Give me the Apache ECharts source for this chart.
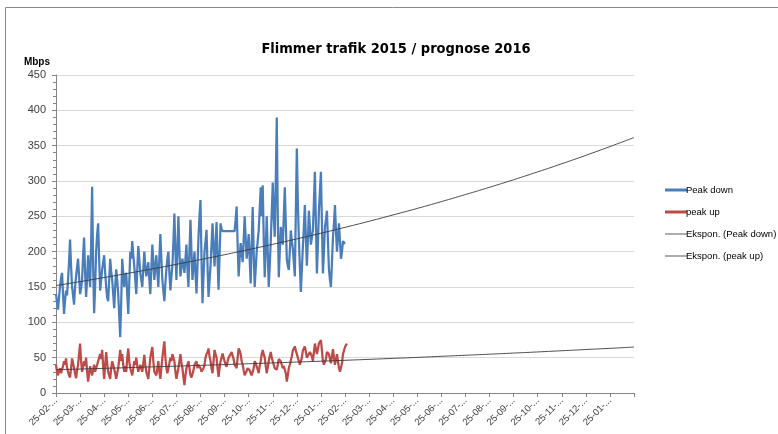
<!DOCTYPE html>
<html>
<head>
<meta charset="utf-8">
<script src="https://cdn.jsdelivr.net/npm/echarts@6/dist/echarts.min.js"></script>
<style>html,body{margin:0;padding:0;background:#fff;}#c{width:778px;height:434px;}</style>
</head>
<body>
<div id="c"></div>
<script>
// x-axis tick labels (one per month tick)
const monthLabels = ['25-02-...','25-03-...','25-04-...','25-05-...','25-06-...','25-07-...','25-08-...','25-09-...','25-10-...','25-11-...','25-12-...','25-01-...',
                     '25-02-...','25-03-...','25-04-...','25-05-...','25-06-...','25-07-...','25-08-...','25-09-...','25-10-...','25-11-...','25-12-...','25-01-...'];
// samples are spaced 1/24 month apart, starting at the first tick
const sampleStep = 1 / 24;
const peakDown = [
  140,128,118,135,150,162,170,140,112,130,145,138,160,185,217,180,150,138,125,150,
  165,178,190,165,140,148,160,195,220,170,136,160,195,172,150,210,292,180,113,150,
  200,225,240,190,145,160,175,185,195,170,150,135,130,160,190,172,160,140,120,150,
  175,160,140,110,79,130,190,170,150,165,170,140,112,155,200,190,215,195,180,160,
  140,175,208,190,170,160,150,175,200,180,165,175,185,160,140,175,210,185,160,180,
  195,170,150,190,225,190,160,145,130,155,175,190,200,170,145,165,180,215,254,200,
  160,205,250,200,165,178,190,180,170,190,210,175,150,200,245,200,160,180,200,170,
  141,180,220,250,273,190,127,165,200,215,231,180,136,158,180,210,240,205,179,210,
  242,190,146,195,240,232,229,229,229,229,229,229,229,229,229,229,229,229,229,245,
  264,210,165,190,212,200,185,215,250,220,190,205,225,190,155,210,263,200,150,175,
  200,215,230,260,291,250,294,220,164,205,250,200,150,180,215,255,298,250,221,300,
  390,250,164,200,235,220,210,250,291,240,190,180,174,200,230,215,205,185,165,255,
  346,270,220,180,143,175,206,235,266,220,180,215,258,235,210,220,230,270,313,240,
  169,210,258,285,313,240,169,200,235,245,258,215,175,160,150,185,220,240,266,230,
  200,220,240,215,190,200,215,213,211];
const peakUp = [
  40,30,25,32,35,28,30,38,45,40,49,36,30,25,22,35,49,42,35,28,
  21,32,40,55,70,45,30,38,45,38,50,30,16,28,38,30,25,33,40,30,
  35,40,45,50,55,48,61,38,20,40,58,42,30,25,20,35,45,40,38,28,
  20,28,35,48,61,45,55,40,30,38,30,50,63,45,35,30,25,35,45,40,
  50,38,30,35,40,35,30,42,54,40,30,25,20,35,50,58,65,45,30,28,
  25,35,45,30,20,35,50,62,73,50,35,28,30,42,50,45,55,50,45,30,
  20,28,35,45,55,42,35,22,11,25,35,40,45,35,25,22,20,32,40,38,
  45,35,40,38,35,30,28,35,40,50,55,58,63,52,45,35,28,45,61,55,
  50,35,23,35,45,50,56,50,45,40,37,45,50,52,55,58,60,48,40,38,
  35,50,63,60,55,45,40,32,25,28,30,35,37,32,28,25,23,35,45,42,
  40,33,28,38,45,55,61,55,50,38,28,36,45,52,58,50,45,40,35,34,
  33,40,48,46,45,40,35,38,40,28,16,25,35,40,42,52,60,63,66,60,
  55,50,45,40,38,50,60,63,66,58,50,52,55,58,60,52,45,58,70,62,
  55,62,70,72,75,60,45,40,38,48,58,56,55,48,42,52,62,50,40,48,
  55,45,35,30,28,42,55,60,65,68,70];
// exponential trendlines, read at each month tick (0..24)
const trendDown = [152,157.6,163.4,169.4,175.6,182.1,188.8,195.7,202.9,210.4,218.1,226.1,234.4,
  243,252,261.2,270.8,280.8,291.1,301.8,312.9,324.4,336.3,348.7,361.5];
const trendUp = [33,33.9,34.9,35.9,37.0,38.0,39.1,40.2,41.4,42.6,43.8,45.0,46.3,
  47.6,49.0,50.4,51.9,53.4,54.9,56.5,58.1,59.8,61.5,63.2,65.0];

const toXY = (arr, step) => arr.map((v, i) => [i * step, v]);

const chart = echarts.init(document.getElementById('c'), null, {renderer: 'canvas'});
const titleFont = "'DejaVu Sans Condensed','Liberation Sans',sans-serif";
const bodyFont = "'Liberation Sans',sans-serif";
chart.setOption({
  animation: false,
  backgroundColor: '#fff',
  graphic: [{
    type: 'rect', shape: {x: 5.5, y: 7.5, width: 800, height: 500},
    style: {fill: 'none', stroke: '#8a8a8a', lineWidth: 1}, silent: true
  }],
  title: {
    text: 'Flimmer trafik 2015 / prognose 2016',
    left: 391, top: 37, textAlign: 'center',
    textStyle: {fontFamily: titleFont, fontSize: 14.5, fontWeight: 'bold', color: '#000'}
  },
  legend: {
    orient: 'vertical', left: 660, top: 180, itemGap: 12, itemWidth: 22, itemHeight: 10,
    symbolKeepAspect: true,
    textStyle: {fontFamily: bodyFont, fontSize: 9.5, color: '#000', padding: [0, 0, 0, -6]},
    data: [
      {name: 'Peak down', icon: 'path://M0,0L22,0L22,3L0,3Z'},
      {name: 'peak up', icon: 'path://M0,0L22,0L22,3L0,3Z'},
      {name: 'Ekspon. (Peak down)', icon: 'path://M0,0L22,0L22,1.3L0,1.3Z'},
      {name: 'Ekspon. (peak up)', icon: 'path://M0,0L22,0L22,1.3L0,1.3Z'}
    ]
  },
  grid: {left: 56, right: 144, top: 75, bottom: 41, containLabel: false},
  xAxis: {
    type: 'value', min: 0, max: 24, interval: 1,
    axisLine: {show: true, lineStyle: {color: '#868686'}},
    axisTick: {show: true, length: 4, lineStyle: {color: '#868686'}},
    splitLine: {show: false},
    axisLabel: {
      rotate: 45, fontFamily: bodyFont, fontSize: 9.5, color: '#404040', margin: 6,
      formatter: v => (v < monthLabels.length ? monthLabels[v] : '')
    }
  },
  yAxis: {
    type: 'value', min: 0, max: 450, interval: 50,
    name: 'Mbps', nameLocation: 'end', nameGap: 8,
    nameTextStyle: {fontFamily: bodyFont, fontSize: 10, fontWeight: 'bold', color: '#000', align: 'right', padding: [0, 6, 0, 0]},
    axisLine: {show: true, lineStyle: {color: '#868686'}},
    axisTick: {show: true, length: 4, lineStyle: {color: '#868686'}},
    minorTick: {show: true, splitNumber: 5, length: 3, lineStyle: {color: '#868686'}},
    splitLine: {show: true, lineStyle: {color: '#d9d9d9', width: 1}},
    axisLabel: {fontFamily: bodyFont, fontSize: 11, color: '#404040', margin: 10}
  },
  series: [
    {name: 'Peak down', type: 'line', data: toXY(peakDown, sampleStep), showSymbol: false, symbol: 'none',
     lineStyle: {color: '#4a7ebb', width: 2.25}, itemStyle: {color: '#4a7ebb'}, z: 2},
    {name: 'peak up', type: 'line', data: toXY(peakUp, sampleStep), showSymbol: false, symbol: 'none',
     lineStyle: {color: '#be4b48', width: 2.25}, itemStyle: {color: '#be4b48'}, z: 2},
    {name: 'Ekspon. (Peak down)', type: 'line', data: toXY(trendDown, 1), smooth: true, showSymbol: false, symbol: 'none',
     lineStyle: {color: '#3a3a3a', width: 0.9}, itemStyle: {color: '#808080'}, z: 3},
    {name: 'Ekspon. (peak up)', type: 'line', data: toXY(trendUp, 1), smooth: true, showSymbol: false, symbol: 'none',
     lineStyle: {color: '#3a3a3a', width: 0.9}, itemStyle: {color: '#808080'}, z: 3}
  ]
});
</script>
</body>
</html>
